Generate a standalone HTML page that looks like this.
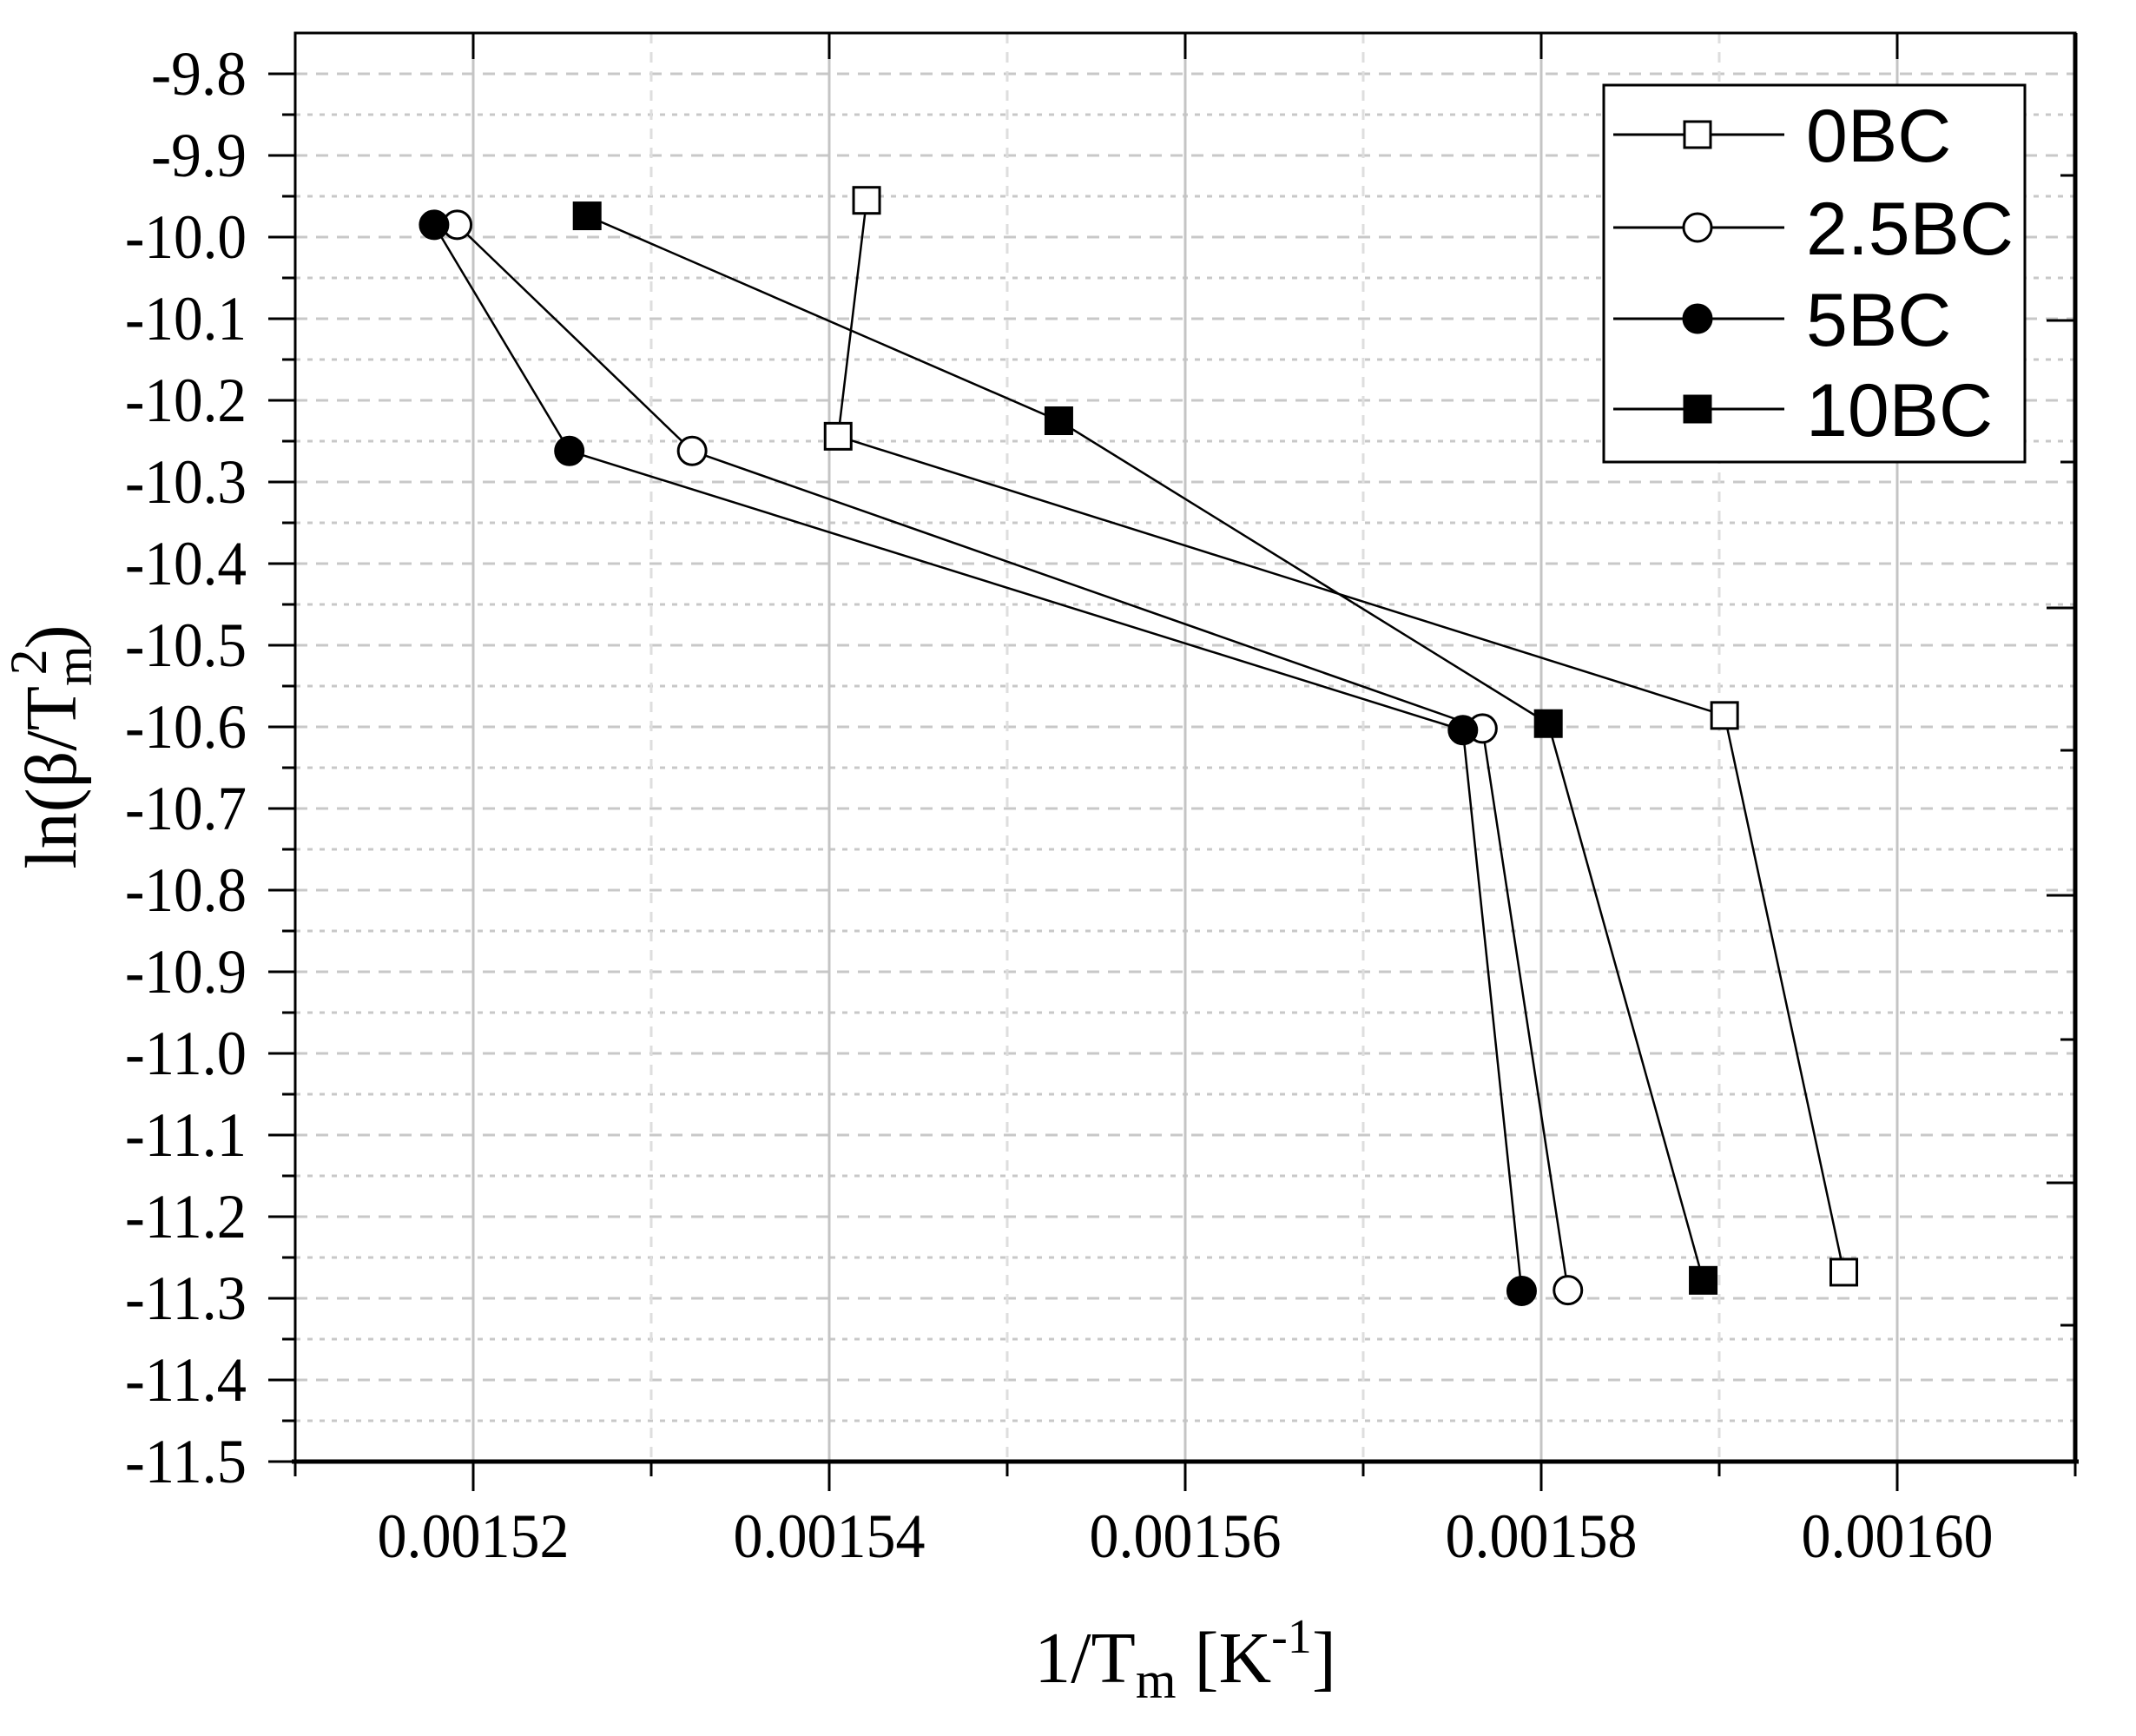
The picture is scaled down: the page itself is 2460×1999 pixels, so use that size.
<!DOCTYPE html>
<html><head><meta charset="utf-8"><style>
html,body{margin:0;padding:0;background:#fff;}
svg{display:block;}
</style></head><body>
<svg id="chart" width="2460" height="1999" viewBox="0 0 2460 1999" xmlns="http://www.w3.org/2000/svg">
<rect x="0" y="0" width="2460" height="1999" fill="#fff"/>
<g id="grid"></g>
<g id="axes"></g>
<g id="series"></g>
<g>
  <rect x="1847" y="98" width="485" height="434" fill="#fff" stroke="#000" stroke-width="3"/>
  <g id="legend-items"></g>
</g>
<text x="1365" y="1937" text-anchor="middle" font-family="Liberation Serif, serif" font-size="84">1/T<tspan font-size="60" dy="18">m</tspan><tspan dy="-18"> [K</tspan><tspan font-size="56" dy="-34">-1</tspan><tspan dy="34">]</tspan></text>
<text transform="translate(87,860) rotate(-90)" text-anchor="middle" font-family="Liberation Serif, serif" font-size="84">ln(β/T<tspan font-size="60" dy="18">m</tspan><tspan font-size="60" dx="-34" dy="-52">2</tspan><tspan dy="34">)</tspan></text>
</svg>
<script>
const seriesNames = ["0BC", "2.5BC", "5BC", "10BC"];
const xs0 = [0.0015421, 0.0015405, 0.0015903, 0.0015970];
const ys0 = [-9.955, -10.244, -10.586, -11.268];
const xs25 = [0.0015191, 0.0015323, 0.0015767, 0.0015815];
const ys25 = [-9.985, -10.262, -10.602, -11.290];
const xs5 = [0.0015178, 0.0015254, 0.0015756, 0.0015789];
const ys5 = [-9.985, -10.262, -10.604, -11.291];
const xs10 = [0.0015264, 0.0015529, 0.0015804, 0.0015891];
const ys10 = [-9.974, -10.225, -10.596, -11.278];
const xTickValues = [0.00152, 0.00154, 0.00156, 0.00158, 0.00160];
const xTickLabels = ["0.00152", "0.00154", "0.00156", "0.00158", "0.00160"];
const yTickValues = [-9.8,-9.9,-10.0,-10.1,-10.2,-10.3,-10.4,-10.5,-10.6,-10.7,-10.8,-10.9,-11.0,-11.1,-11.2,-11.3,-11.4,-11.5];
const yTickLabels = ["-9.8","-9.9","-10.0","-10.1","-10.2","-10.3","-10.4","-10.5","-10.6","-10.7","-10.8","-10.9","-11.0","-11.1","-11.2","-11.3","-11.4","-11.5"];

const NS = "http://www.w3.org/2000/svg";
const L = 340, R = 2390, T = 38, B = 1683;
const xMin = 0.00151, xMax = 0.00161, yMin = -11.5, yMax = -9.75;
function X(v){ return L + (v - xMin) / (xMax - xMin) * (R - L); }
function Y(v){ return B - (v - yMin) / (yMax - yMin) * (B - T); }
function mk(tag, attrs, parent){ const e = document.createElementNS(NS, tag); for (const k in attrs) e.setAttribute(k, attrs[k]); parent.appendChild(e); return e; }

const grid = document.getElementById('grid');
const axes = document.getElementById('axes');
// horizontal dotted gridlines every 0.05
for (let i = 1; i < 35; i++) {
  const v = yMin + i * 0.05;
  const g = mk('line', {x1: L, x2: R, y1: Y(v), y2: Y(v), stroke: '#c8c8c8', 'stroke-width': 3, 'stroke-dasharray': i % 2 === 0 ? '14 10' : '6 8'}, grid);
  
  
}
// vertical gridlines
for (let i = 1; i < 10; i++) {
  const v = xMin + i * 0.00001;
  const major = i % 2 === 1;
  const g = mk('line', {x1: X(v), x2: X(v), y1: T, y2: B, stroke: major ? '#c4c4c4' : '#dedede', 'stroke-width': 3, 'stroke-dasharray': major ? 'none' : '12 10'}, grid);
  
  
}
// frame
const fr = mk('rect', {x: L, y: T, width: R - L, height: B - T, fill: 'none', stroke: '#000', 'stroke-width': 3}, axes);


mk('line', {x1: L - 4, x2: R + 4, y1: B, y2: B, stroke: '#000', 'stroke-width': 5}, axes);
mk('line', {x1: R, x2: R, y1: T, y2: B, stroke: '#000', 'stroke-width': 5}, axes);
// x ticks
for (let i = 0; i <= 10; i++) {
  const v = xMin + i * 0.00001;
  const major = i % 2 === 1;
  mk('line', {x1: X(v), x2: X(v), y1: B, y2: B + (major ? 34 : 17), stroke: '#000', 'stroke-width': 3}, axes);
  if (major) mk('line', {x1: X(v), x2: X(v), y1: T, y2: T + 30, stroke: '#000', 'stroke-width': 3}, axes);
}
xTickValues.forEach((v, i) => {
  const t = mk('text', {x: X(v), y: 1793, 'text-anchor': 'middle', 'font-family': 'Liberation Serif, serif', 'font-size': 72, textLength: 221, lengthAdjust: 'spacingAndGlyphs'}, axes);
  t.textContent = xTickLabels[i];
  
  
});
// y ticks
for (let i = 0; i <= 34; i++) {
  const v = yMin + i * 0.05;
  const major = i % 2 === 0;
  mk('line', {x1: L - (major ? 31 : 15), x2: L, y1: Y(v), y2: Y(v), stroke: '#000', 'stroke-width': 3}, axes);
}
yTickValues.forEach((v, i) => {
  const s = yTickLabels[i];
  const t = mk('text', {x: 284, y: Y(v) + 24, 'text-anchor': 'end', 'font-family': 'Liberation Serif, serif', 'font-size': 72, textLength: s.length === 4 ? 110 : 140, lengthAdjust: 'spacingAndGlyphs'}, axes);
  t.textContent = s;
  
  
});
// right axis ticks (secondary scale)
[369, 700, 1031, 1362].forEach(y => mk('line', {x1: R - 33, x2: R, y1: y, y2: y, stroke: '#000', 'stroke-width': 3}, axes));
[202, 532, 864, 1197, 1526].forEach(y => mk('line', {x1: R - 17, x2: R, y1: y, y2: y, stroke: '#000', 'stroke-width': 3}, axes));

function marker(parent, kind, cx, cy) {
  let e;
  if (kind === 'sq-open' || kind === 'sq-fill') {
    e = mk('rect', {x: cx - 15, y: cy - 15, width: 30, height: 30, fill: kind === 'sq-fill' ? '#000' : '#fff', stroke: '#000', 'stroke-width': 3}, parent);
  } else {
    e = mk('circle', {cx: cx, cy: cy, r: 16, fill: kind === 'ci-fill' ? '#000' : '#fff', stroke: '#000', 'stroke-width': 3}, parent);
  }
  return e;
}
const seriesX = [xs0, xs25, xs5, xs10];
const seriesY = [ys0, ys25, ys5, ys10];
const kinds = ['sq-open', 'ci-open', 'ci-fill', 'sq-fill'];
const sg = document.getElementById('series');
seriesNames.forEach((nm, s) => {
  const g = mk('g', {}, sg);
  
  
  const pts = seriesX[s].map((x, i) => X(x) + ',' + Y(seriesY[s][i])).join(' ');
  const pl = mk('polyline', {points: pts, fill: 'none', stroke: '#000', 'stroke-width': 2.5}, g);
  
  
  seriesX[s].forEach((x, i) => {
    const m = marker(g, kinds[s], X(x), Y(seriesY[s][i]));
    
    
  });
});
// legend
const lg = document.getElementById('legend-items');
const legY = [155, 262, 367, 471];
seriesNames.forEach((nm, s) => {
  const g = mk('g', {}, lg);
  
  
  mk('line', {x1: 1858, x2: 2055, y1: legY[s], y2: legY[s], stroke: '#000', 'stroke-width': 3}, g);
  marker(g, kinds[s], 1955, legY[s]);
  const t = mk('text', {x: 2080, y: legY[s] + 31, 'font-family': 'Liberation Sans, sans-serif', 'font-size': 86}, g);
  t.textContent = nm;
});
</script>
</body></html>
